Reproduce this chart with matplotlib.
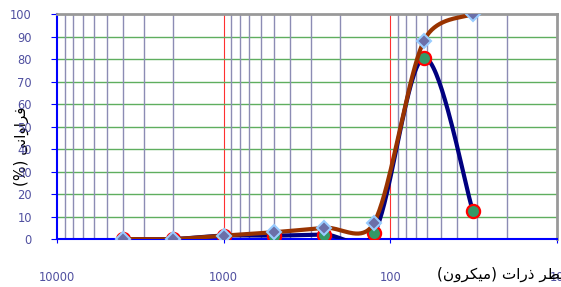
import numpy as np
import matplotlib
matplotlib.use('Agg')
from matplotlib import pyplot as plt
from matplotlib.ticker import FixedLocator, NullFormatter

# sieve sizes (micron) and the two curves (%)
sizes = [4000, 2000, 1000, 500, 250, 125, 63, 32]
freq = [0, 0, 1.5, 1.5, 2, 2.5, 80.5, 12.5]        # navy, green circles
cum = [0, 0, 1.5, 3, 5, 7.3, 88, 100]              # brown, diamonds
xticks = [10000, 1000, 100, 10]
yticks = list(range(0, 101, 10))

xlabel_txt = 'قطر ذرات (میکرون)'
ylabel_txt = 'فراوانی (%)'

# arabic joining forms: isolated, final, initial, medial
FORMS = {
	'ق': (0xFED5, 0xFED6, 0xFED7, 0xFED8),
	'ط': (0xFEC1, 0xFEC2, 0xFEC3, 0xFEC4),
	'ت': (0xFE95, 0xFE96, 0xFE97, 0xFE98),
	'م': (0xFEE1, 0xFEE2, 0xFEE3, 0xFEE4),
	'ی': (0xFBFC, 0xFBFD, 0xFBFE, 0xFBFF),
	'ک': (0xFB8E, 0xFB8F, 0xFB90, 0xFB91),
	'ن': (0xFEE5, 0xFEE6, 0xFEE7, 0xFEE8),
	'ف': (0xFED1, 0xFED2, 0xFED3, 0xFED4),
	'ر': (0xFEAD, 0xFEAE),
	'ذ': (0xFEAB, 0xFEAC),
	'ا': (0xFE8D, 0xFE8E),
	'و': (0xFEED, 0xFEEE),
}

def shape(text):
	out = []
	for i, ch in enumerate(text):
		if ch not in FORMS:
			out.append(ch)
			continue
		forms = FORMS[ch]
		prev = text[i-1] if i > 0 else ''
		nxt = text[i+1] if i + 1 < len(text) else ''
		jp = prev in FORMS and len(FORMS[prev]) == 4
		jn = nxt in FORMS and len(forms) == 4
		if jp and jn:
			f = forms[3]
		elif jp:
			f = forms[1]
		elif jn:
			f = forms[2]
		else:
			f = forms[0]
		out.append(chr(f))
	vis = ''.join(out)[::-1]
	return vis.translate(str.maketrans('()', ')('))

# excel like smoothing: catmull-rom bezier, control arm capped at half the segment
def smooth(xs, ys, n=40):
	u = np.log10(xs) * 167.0
	v = np.array(ys, dtype=float) * 2.25
	P = np.column_stack([u, v])
	P = np.vstack([P[0], P, P[-1]])
	t = np.linspace(0, 1, n)[:, None]
	pts = []
	for i in range(1, len(P) - 2):
		p0 = P[i]
		p3 = P[i+1]
		d1 = np.hypot(*(p3 - p0))
		a = (P[i+1] - P[i-1]) / 6.0
		b = (P[i+2] - P[i]) / 6.0
		la = np.hypot(*a)
		lb = np.hypot(*b)
		if la > d1 / 2:
			a = a * (d1 / 2) / la
		if lb > d1 / 2:
			b = b * (d1 / 2) / lb
		c1 = p0 + a
		c2 = p3 - b
		seg = (1-t)**3*p0 + 3*(1-t)**2*t*c1 + 3*(1-t)*t**2*c2 + t**3*p3
		pts.append(seg)
	pts = np.vstack(pts)
	return 10 ** (pts[:, 0] / 167.0), pts[:, 1] / 2.25


fig = plt.figure(figsize=(5.61, 2.87), dpi=100)
ax = fig.add_axes([0.1016, 0.1672, 0.8913, 0.784])

ax.set_xscale('log')
ax.set_xlim(10000, 10)
ax.set_ylim(0, 100)

# grid
ax.xaxis.set_minor_locator(FixedLocator([m * 10**d for d in range(1, 4) for m in range(2, 10)]))
ax.xaxis.set_minor_formatter(NullFormatter())
ax.grid(True, which='minor', axis='x', color='#8c8cb4', lw=1.0)
for xv in [1000, 100]:
	ax.axvline(xv, color='#ff3030', lw=0.8, zorder=1)
for yv in yticks[1:-1]:
	ax.axhline(yv, color='#5fae5f', lw=1.0, zorder=1)

sx, sy = smooth(sizes, freq)
ax.plot(sx, sy, color='#000080', lw=3.0, zorder=3, solid_capstyle='round')
ax.plot(sizes, freq, ls='none', marker='o', ms=9.5, mfc='#339966', mec='#ff0000', mew=1.6, zorder=4)

cx, cy = smooth(sizes, cum)
ax.plot(cx, cy, color='#993300', lw=3.0, zorder=5, solid_capstyle='round')
ax.plot(sizes, cum, ls='none', marker='D', ms=7.5, mfc='#6b6fa8', mec='#99ccff', mew=1.5, zorder=6)

# axes look
tick_col = '#5050a0'
ax.set_xticks(xticks)
ax.set_xticklabels([str(v) for v in xticks])
ax.set_yticks(yticks)
ax.tick_params(axis='y', which='major', length=4, color='#0000ff', labelcolor=tick_col, labelsize=8.3, pad=14)
ax.tick_params(axis='x', which='major', length=3, color='#0000ff', labelcolor=tick_col, labelsize=8.3, pad=20)
ax.tick_params(axis='x', which='minor', length=0)
for s in ['left', 'bottom']:
	ax.spines[s].set_color('#0000ff')
	ax.spines[s].set_linewidth(1.5)
for s in ['top', 'right']:
	ax.spines[s].set_color('#999999')
	ax.spines[s].set_linewidth(2)
for s in ax.spines.values():
	s.set_zorder(2)

fig.text(437 / 561, 1 - 274 / 287, shape(xlabel_txt), ha='left', va='center', fontsize=11, color='black', zorder=10)
fig.text(21 / 561, 1 - 146 / 287, shape(ylabel_txt), ha='center', va='center', rotation=90, fontsize=11, color='black', zorder=-1)

plt.savefig('out.png', dpi=100)
